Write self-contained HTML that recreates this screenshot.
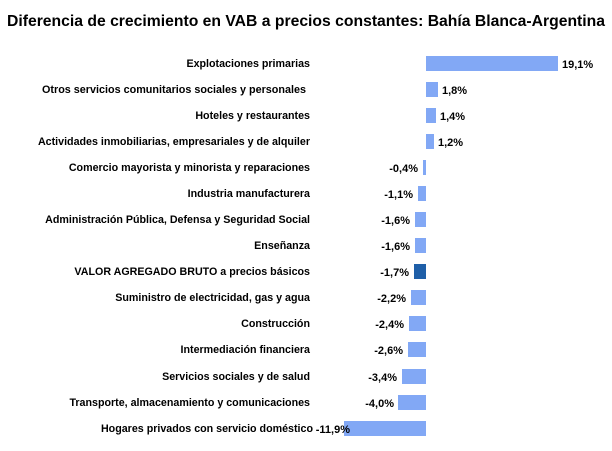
<!DOCTYPE html>
<html><head><meta charset="utf-8"><style>
html,body{margin:0;padding:0;background:#fff;}
svg text{font-family:"Liberation Sans",sans-serif;fill:#000;}
</style></head><body>
<svg width="612" height="446" viewBox="0 0 612 446" xmlns="http://www.w3.org/2000/svg">
<text x="7" y="26" font-size="16" font-weight="bold" textLength="598" lengthAdjust="spacingAndGlyphs">Diferencia de crecimiento en VAB a precios constantes: Bahía Blanca-Argentina</text>
<g font-size="10.7" font-weight="bold" text-anchor="end">
<text x="310" y="67">Explotaciones primarias</text>
<text x="306" y="93" textLength="264" lengthAdjust="spacingAndGlyphs">Otros servicios comunitarios sociales y personales</text>
<text x="310" y="119">Hoteles y restaurantes</text>
<text x="310" y="145">Actividades inmobiliarias, empresariales y de alquiler</text>
<text x="310" y="171">Comercio mayorista y minorista y reparaciones</text>
<text x="310" y="197">Industria manufacturera</text>
<text x="310" y="223">Administración Pública, Defensa y Seguridad Social</text>
<text x="310" y="249">Enseñanza</text>
<text x="310" y="275">VALOR AGREGADO BRUTO a precios básicos</text>
<text x="310" y="301">Suministro de electricidad, gas y agua</text>
<text x="310" y="327">Construcción</text>
<text x="310" y="353">Intermediación financiera</text>
<text x="310" y="380">Servicios sociales y de salud</text>
<text x="310" y="406">Transporte, almacenamiento y comunicaciones</text>
<text x="313" y="432">Hogares privados con servicio doméstico</text>
</g>
<g fill="#82a8f5">
<rect x="426" y="56" width="132" height="15"/>
<rect x="426" y="82" width="12" height="15"/>
<rect x="426" y="108" width="10" height="15"/>
<rect x="426" y="134" width="8" height="15"/>
<rect x="423" y="160" width="3" height="15"/>
<rect x="418" y="186" width="8" height="15"/>
<rect x="415" y="212" width="11" height="15"/>
<rect x="415" y="238" width="11" height="15"/>
<rect x="411" y="290" width="15" height="15"/>
<rect x="409" y="316" width="17" height="15"/>
<rect x="408" y="342" width="18" height="15"/>
<rect x="402" y="369" width="24" height="15"/>
<rect x="398" y="395" width="28" height="15"/>
<rect x="344" y="421" width="82" height="15"/>
</g>
<rect x="414" y="264" width="12" height="15" fill="#1f5fa8"/>
<g font-size="11" font-weight="bold">
<text x="562" y="68">19,1%</text>
<text x="442" y="94">1,8%</text>
<text x="440" y="120">1,4%</text>
<text x="438" y="146">1,2%</text>
</g>
<g font-size="11" font-weight="bold" text-anchor="end">
<text x="418" y="172">-0,4%</text>
<text x="413" y="198">-1,1%</text>
<text x="410" y="224">-1,6%</text>
<text x="410" y="250">-1,6%</text>
<text x="409" y="276">-1,7%</text>
<text x="406" y="302">-2,2%</text>
<text x="404" y="328">-2,4%</text>
<text x="403" y="354">-2,6%</text>
<text x="397" y="381">-3,4%</text>
<text x="394" y="407">-4,0%</text>
<text x="350" y="433">-11,9%</text>
</g>
</svg>
</body></html>
